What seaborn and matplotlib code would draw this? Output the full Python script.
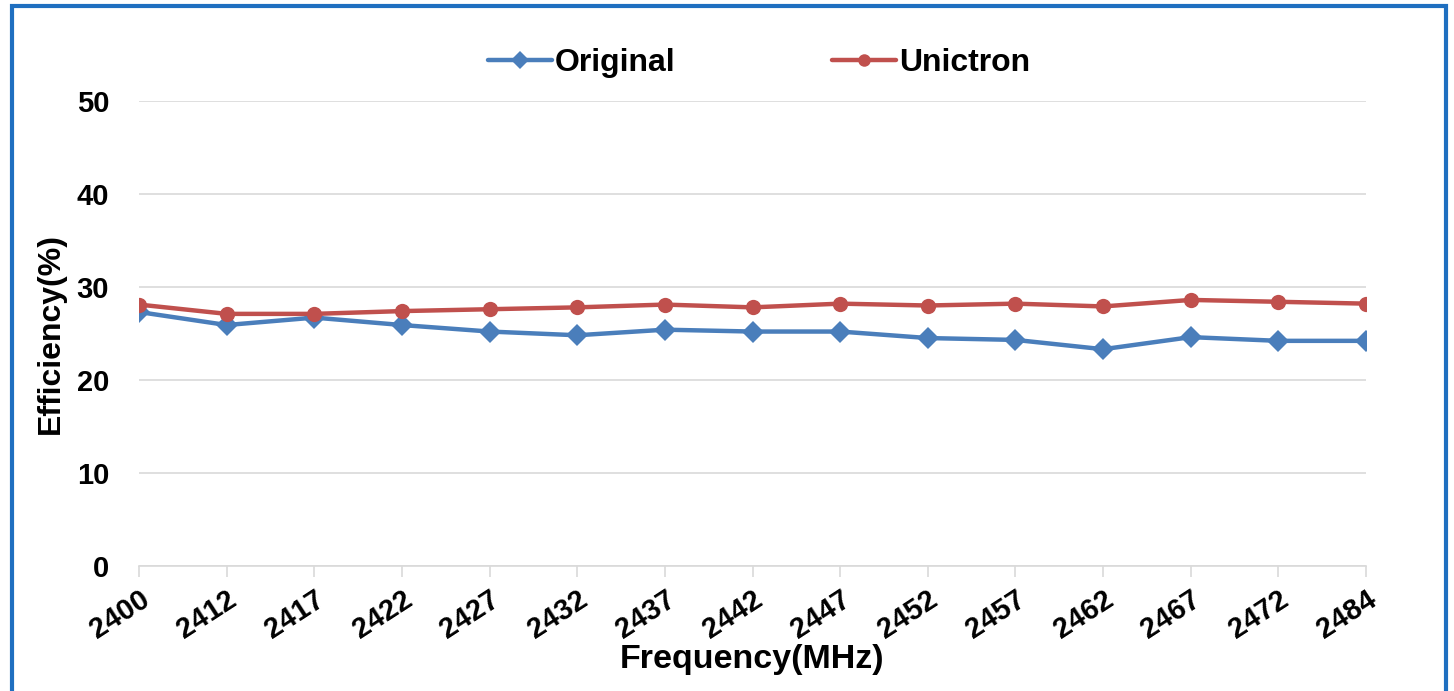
import numpy as np
import pandas as pd
import seaborn as sns
import matplotlib.pyplot as plt
from matplotlib.patches import Rectangle

freqs = ['2400', '2412', '2417', '2422', '2427', '2432', '2437', '2442',
         '2447', '2452', '2457', '2462', '2467', '2472', '2484']
original = [27.3, 25.9, 26.7, 25.9, 25.2, 24.8, 25.4, 25.2, 25.2, 24.5, 24.3, 23.3, 24.6, 24.2, 24.2]
unictron = [28.1, 27.1, 27.1, 27.4, 27.6, 27.8, 28.1, 27.8, 28.2, 28.0, 28.2, 27.9, 28.6, 28.4, 28.2]

sns.set_style('white')
plt.rcParams['font.family'] = ['Liberation Sans', 'DejaVu Sans']
plt.rcParams['font.weight'] = 'bold'
plt.rcParams['text.color'] = 'black'
plt.rcParams['axes.labelcolor'] = 'black'
plt.rcParams['xtick.color'] = 'black'
plt.rcParams['ytick.color'] = 'black'

df = pd.DataFrame({
    'Frequency': freqs * 2,
    'Efficiency': original + unictron,
    'Series': ['Original'] * len(freqs) + ['Unictron'] * len(freqs),
})

fig = plt.figure(figsize=(14.54, 6.91), dpi=100)
ax = fig.add_axes([0.0956, 0.181, 0.8439, 0.673])

palette = {'Original': '#4A7EBB', 'Unictron': '#C0504D'}
sns.lineplot(data=df, x='Frequency', y='Efficiency', hue='Series', style='Series',
             markers={'Original': 'D', 'Unictron': 'o'}, dashes=False,
             palette=palette, linewidth=3.2, markersize=11, markeredgewidth=0,
             ax=ax, sort=False)

ax.set_xlim(0, len(freqs) - 1)
ax.set_ylim(0, 50)
ax.set_yticks(np.arange(0, 51, 10))
ax.yaxis.grid(True, color='#d9d9d9', linewidth=1.2)
ax.set_axisbelow(True)
for s in ['left', 'right', 'top']:
    ax.spines[s].set_visible(False)
ax.spines['bottom'].set_color('#d9d9d9')
ax.spines['bottom'].set_linewidth(1.2)
ax.tick_params(axis='x', bottom=True, length=8, color='#d9d9d9', width=1.2,
               labelsize=21, pad=6, labelcolor='black')
ax.tick_params(axis='y', left=False, labelsize=21, pad=18, labelcolor='black')
plt.setp(ax.get_xticklabels(), rotation=33, ha='right', rotation_mode='anchor', fontweight='bold')
plt.setp(ax.get_yticklabels(), fontweight='bold')

ax.set_xlabel('Frequency(MHz)', fontsize=24.5, fontweight='bold', labelpad=0)
ax.set_ylabel('Efficiency(%)', fontsize=23, fontweight='bold', labelpad=8)

handles, labels = ax.get_legend_handles_labels()
for h in handles:
    h.set_markersize(9)
ax.legend(handles, labels, ncol=2, frameon=False, loc='center',
          bbox_to_anchor=(0.522, 0.909), bbox_transform=fig.transFigure,
          prop={'size': 23, 'weight': 'bold'}, columnspacing=4.9,
          handlelength=2.0, handletextpad=0.1)

fig.patches.append(Rectangle((0.0083, -0.05), 0.986, 1.041, transform=fig.transFigure,
                             fill=False, edgecolor='#1f6fc0', linewidth=3))

fig.savefig('out.png', dpi=100)
